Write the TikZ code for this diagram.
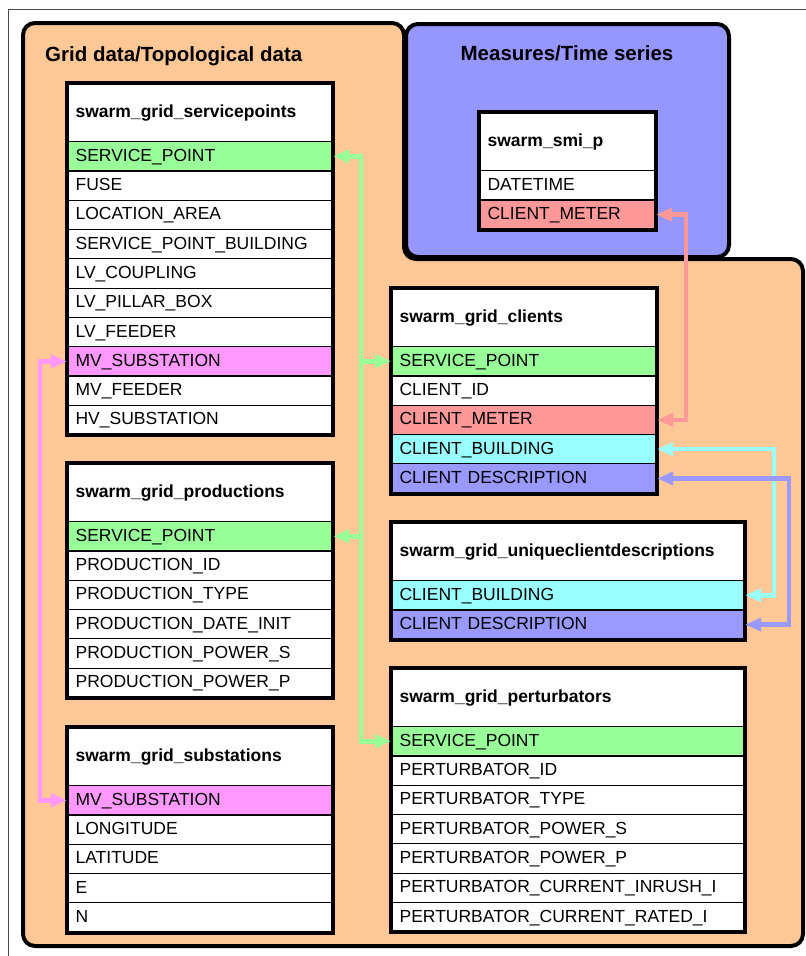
\documentclass[tikz,border=0pt]{standalone}
\usepackage{fontspec}
\setmainfont{Liberation Sans}
\usetikzlibrary{arrows.meta}

\definecolor{orangebg}{RGB}{255,200,150}
\definecolor{bluebg}{RGB}{150,150,255}
\definecolor{keygreen}{RGB}{153,255,153}
\definecolor{keypink}{RGB}{255,153,255}
\definecolor{keyred}{RGB}{255,153,153}
\definecolor{keycyan}{RGB}{153,255,255}
\definecolor{keyblue}{RGB}{153,153,255}

\tikzset{
  tblhead/.style={draw=black,line width=1.2pt,fill=white,anchor=north west,minimum height=58pt,
    text height=13pt,text depth=3pt,inner xsep=8pt,align=left,font=\bfseries\fontsize{17.5pt}{21pt}\selectfont},
  tblrow/.style={draw=black,line width=1.2pt,anchor=north west,minimum height=29.3pt,
    text height=13pt,text depth=3pt,inner xsep=8pt,align=left,font=\fontsize{17.5pt}{21pt}\selectfont},
  narrow/.style={minimum width=265pt,text width=249pt},
  small/.style={minimum width=176pt,text width=160pt},
  wide/.style={minimum width=353pt,text width=337pt},
  tblframe/.style={draw=black,line width=4pt},
  grouptitle/.style={font=\bfseries\fontsize{20.5pt}{24pt}\selectfont,inner sep=0pt},
  link/.style={draw=#1,line width=4.5pt,line join=miter}
}

\begin{document}
\begin{tikzpicture}[x=1pt,y=-1pt,>={Triangle[length=16pt,width=13pt]}]
\useasboundingbox (0,0) rectangle (806,956);
\draw[black!70,line width=0.8pt] (8,9) rectangle (812,962);

% groups
\draw[fill=orangebg,line width=4pt,rounded corners=12pt] (23,23) -- (404,23) -- (404,259) -- (803,259) -- (803,946) -- (23,946) -- cycle;
\draw[fill=bluebg,line width=4pt,rounded corners=12pt] (406,24) rectangle (729,257);
\node[grouptitle,anchor=base west] (gridtitle) at (45,61) {Grid data/Topological data};
\node[grouptitle,anchor=base] (meastitle) at (567,60) {Measures/Time series};

% swarm_grid_servicepoints
\node[tblhead,narrow] (srv) at (67,83) {swarm\_grid\_servicepoints};
\foreach \lbl/\clr [count=\i] in {SERVICE\_POINT/keygreen,FUSE/white,LOCATION\_AREA/white,
  SERVICE\_POINT\_BUILDING/white,LV\_COUPLING/white,LV\_PILLAR\_BOX/white,LV\_FEEDER/white,
  MV\_SUBSTATION/keypink,MV\_FEEDER/white,HV\_SUBSTATION/white}
  \node[tblrow,narrow,fill=\clr] (srv\i) at (67,{141+29.3*(\i-1)}) {\lbl};
\draw[tblframe] (srv.north west) rectangle (srv10.south east);

% swarm_grid_productions
\node[tblhead,narrow] (prd) at (67,463) {swarm\_grid\_productions};
\foreach \lbl/\clr [count=\i] in {SERVICE\_POINT/keygreen,PRODUCTION\_ID/white,PRODUCTION\_TYPE/white,
  PRODUCTION\_DATE\_INIT/white,PRODUCTION\_POWER\_S/white,PRODUCTION\_POWER\_P/white}
  \node[tblrow,narrow,fill=\clr] (prd\i) at (67,{521+29.3*(\i-1)}) {\lbl};
\draw[tblframe] (prd.north west) rectangle (prd6.south east);

% swarm_grid_substations
\node[tblhead,narrow] (sub) at (67,727) {swarm\_grid\_substations};
\foreach \lbl/\clr [count=\i] in {MV\_SUBSTATION/keypink,LONGITUDE/white,LATITUDE/white,E/white,N/white}
  \node[tblrow,narrow,fill=\clr] (sub\i) at (67,{785+29.3*(\i-1)}) {\lbl};
\draw[tblframe] (sub.north west) rectangle (sub5.south east);

% swarm_smi_p
\node[tblhead,small] (smi) at (479,112) {swarm\_smi\_p};
\foreach \lbl/\clr [count=\i] in {DATETIME/white,CLIENT\_METER/keyred}
  \node[tblrow,small,fill=\clr] (smi\i) at (479,{170+29.3*(\i-1)}) {\lbl};
\draw[tblframe] (smi.north west) rectangle (smi2.south east);

% swarm_grid_clients
\node[tblhead,narrow] (cli) at (391,288) {swarm\_grid\_clients};
\foreach \lbl/\clr [count=\i] in {SERVICE\_POINT/keygreen,CLIENT\_ID/white,CLIENT\_METER/keyred,
  CLIENT\_BUILDING/keycyan,CLIENT DESCRIPTION/keyblue}
  \node[tblrow,narrow,fill=\clr] (cli\i) at (391,{346+29.3*(\i-1)}) {\lbl};
\draw[tblframe] (cli.north west) rectangle (cli5.south east);

% swarm_grid_uniqueclientdescriptions
\node[tblhead,wide] (ucd) at (391,522) {swarm\_grid\_uniqueclientdescriptions};
\foreach \lbl/\clr [count=\i] in {CLIENT\_BUILDING/keycyan,CLIENT DESCRIPTION/keyblue}
  \node[tblrow,wide,fill=\clr] (ucd\i) at (391,{580+29.3*(\i-1)}) {\lbl};
\draw[tblframe] (ucd.north west) rectangle (ucd2.south east);

% swarm_grid_perturbators
\node[tblhead,wide] (prt) at (391,668) {swarm\_grid\_perturbators};
\foreach \lbl/\clr [count=\i] in {SERVICE\_POINT/keygreen,PERTURBATOR\_ID/white,PERTURBATOR\_TYPE/white,
  PERTURBATOR\_POWER\_S/white,PERTURBATOR\_POWER\_P/white,PERTURBATOR\_CURRENT\_INRUSH\_I/white,
  PERTURBATOR\_CURRENT\_RATED\_I/white}
  \node[tblrow,wide,fill=\clr] (prt\i) at (391,{726+29.3*(\i-1)}) {\lbl};
\draw[tblframe] (prt.north west) rectangle (prt7.south east);

% key links
\coordinate (gbus) at (361,0);
\coordinate (pbus) at (40,0);
\coordinate (rbus) at (686,0);
\coordinate (cbus) at (774,0);
\coordinate (bbus) at (789,0);
\draw[link=keygreen,<->] (srv1.east) -- (srv1.east -| gbus) -- (prt1.west -| gbus) -- (prt1.west);
\draw[link=keygreen,->] (prd1.east -| gbus) -- (prd1.east);
\draw[link=keygreen,->] (cli1.west -| gbus) -- (cli1.west);
\draw[link=keypink,<->] (srv8.west) -- (srv8.west -| pbus) -- (sub1.west -| pbus) -- (sub1.west);
\draw[link=keyred,<->] (smi2.east) -- (smi2.east -| rbus) -- (cli3.east -| rbus) -- (cli3.east);
\draw[link=keycyan,<->] (cli4.east) -- (cli4.east -| cbus) -- (ucd1.east -| cbus) -- (ucd1.east);
\draw[link=keyblue,<->] (cli5.east) -- (cli5.east -| bbus) -- (ucd2.east -| bbus) -- (ucd2.east);
\end{tikzpicture}
\end{document}
